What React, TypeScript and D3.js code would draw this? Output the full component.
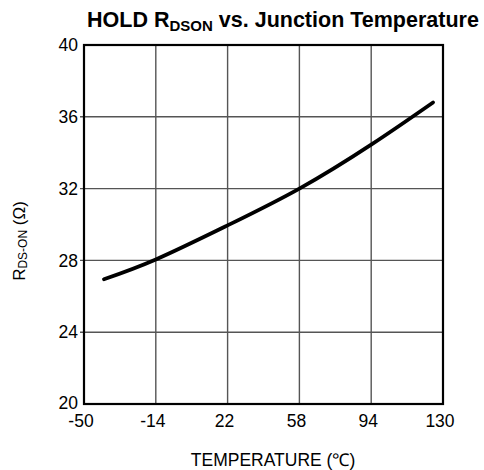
import React from "react";
import * as d3 from "d3";

const temperatures = [-40, -14, 22, 58, 94, 125];
const rdson = [26.95, 28.05, 29.95, 32.0, 34.45, 36.8];
const xTicks = [-50, -14, 22, 58, 94, 130];
const yTicks = [20, 24, 28, 32, 36, 40];

const W = 484;
const H = 470;
const M = { left: 84, right: 41, top: 45, bottom: 66 };

export default function App() {
  const x = d3.scaleLinear().domain([-50, 130]).range([M.left, W - M.right]);
  const y = d3.scaleLinear().domain([20, 40]).range([H - M.bottom, M.top]);
  const pts: [number, number][] = temperatures.map((t, i) => [t, rdson[i]]);
  const line = d3
    .line<[number, number]>()
    .x((d) => x(d[0]))
    .y((d) => y(d[1]))
    .curve(d3.curveNatural);
  const font = "Arial, 'Liberation Sans', sans-serif";
  return (
    <svg
      width={W}
      height={H}
      style={{ position: "absolute", left: 0, top: 0, background: "#fff" }}
      fontFamily={font}
    >
      <text x={283} y={27} textAnchor="middle" fontSize={21.5} fontWeight="bold" fill="#000">
        HOLD R
        <tspan fontSize={15} dy={3.5}>DSON</tspan>
        <tspan dy={-3.5}> vs. Junction Temperature</tspan>
      </text>
      {xTicks.slice(1, -1).map((t) => (
        <line key={"vx" + t} x1={x(t)} x2={x(t)} y1={y(40)} y2={y(20)} stroke="#555" strokeWidth={1.4} />
      ))}
      {yTicks.slice(1, -1).map((t) => (
        <line key={"hy" + t} x1={x(-50) - 4} x2={x(130)} y1={y(t)} y2={y(t)} stroke="#555" strokeWidth={1.4} />
      ))}
      <rect
        x={x(-50)}
        y={y(40)}
        width={x(130) - x(-50)}
        height={y(20) - y(40)}
        fill="none"
        stroke="#000"
        strokeWidth={2.2}
      />
      <path d={line(pts) || ""} fill="none" stroke="#000" strokeWidth={3.8} strokeLinecap="round" />
      {yTicks.map((t) => (
        <text key={"yl" + t} x={x(-50) - 6} y={y(t) - (t === 20 ? 1.5 : 0)} dy="0.35em" textAnchor="end" fontSize={17.5} fill="#000">
          {t}
        </text>
      ))}
      {xTicks.map((t) => (
        <text key={"xl" + t} x={x(t) - 3} y={y(20) + 23} textAnchor="middle" fontSize={17.5} fill="#000">
          {t}
        </text>
      ))}
      <text x={273} y={466} textAnchor="middle" fontSize={17.5} fill="#000">
        TEMPERATURE (℃)
      </text>
      <text transform={`translate(25, ${241}) rotate(-90)`} textAnchor="middle" fontSize={17} fill="#000">
        R
        <tspan fontSize={12} dy={2}>DS-ON</tspan>
        <tspan dy={-2}> (Ω)</tspan>
      </text>
    </svg>
  );
}
